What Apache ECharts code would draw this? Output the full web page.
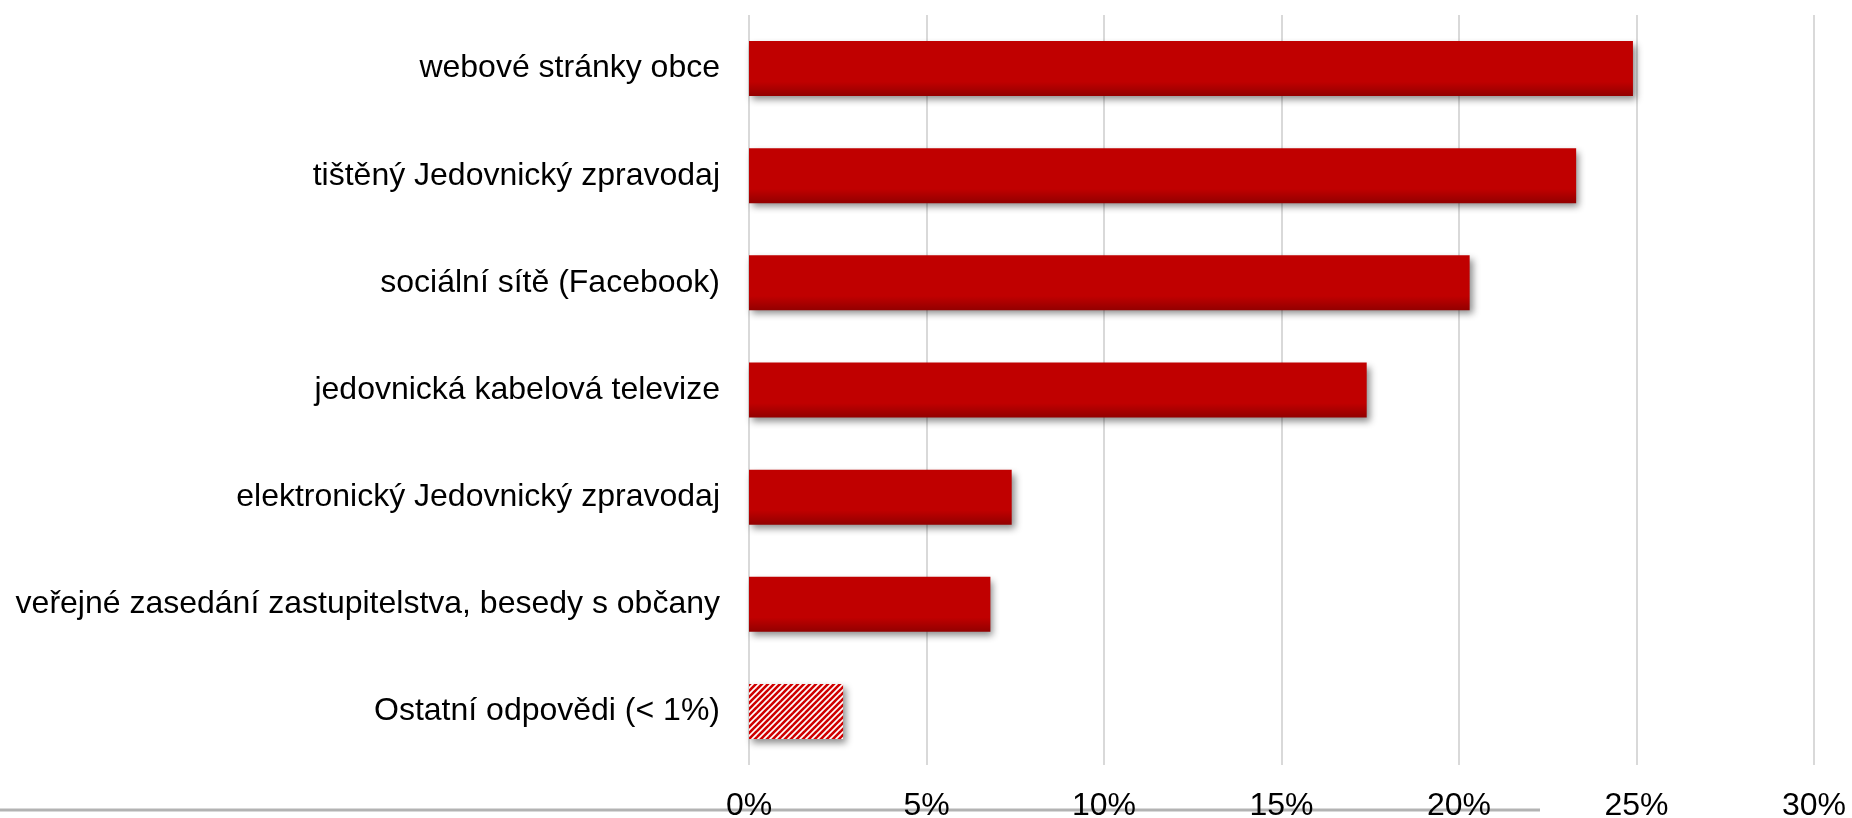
<!DOCTYPE html>
<html>
<head>
<meta charset="utf-8">
<script src="https://cdn.jsdelivr.net/npm/echarts@6/dist/echarts.min.js"></script>
<style>
html,body{margin:0;padding:0;background:#fff;}
#chart{width:1852px;height:818px;}
</style>
</head>
<body>
<div id="chart"></div>
<script>
const categories = [
  "webové stránky obce",
  "tištěný Jedovnický zpravodaj",
  "sociální sítě (Facebook)",
  "jedovnická kabelová televize",
  "elektronický Jedovnický zpravodaj",
  "veřejné zasedání zastupitelstva, besedy s občany",
  "Ostatní odpovědi (< 1%)"
];
const values = [24.9, 23.3, 20.3, 17.4, 7.4, 6.8, 2.65];
const hatchedIndex = 6;
const axisMin = 0, axisMax = 30, axisStep = 5;

// hatch pattern ("/" stripes)
const T = 12, P = 6;
const tile = document.createElement('canvas');
tile.width = T; tile.height = T;
const c = tile.getContext('2d');
c.fillStyle = '#ffffff';
c.fillRect(0, 0, T, T);
c.strokeStyle = '#d00000';
c.lineWidth = 2.6;
for (let k = -1; k <= 2 * T / P + 1; k++) {
  const s = k * P;
  c.beginPath();
  c.moveTo(s + 3, -3);
  c.lineTo(s - T - 3, T + 3);
  c.stroke();
}

const solidColor = {
  type: 'linear', x: 0, y: 0, x2: 0, y2: 1,
  colorStops: [
    {offset: 0, color: '#c00000'},
    {offset: 0.74, color: '#c00000'},
    {offset: 1, color: '#920000'}
  ]
};

const seriesData = values.map((v, i) => ({
  value: v,
  itemStyle: i === hatchedIndex
    ? {color: {image: tile, repeat: 'repeat'}}
    : {color: solidColor}
}));

const chart = echarts.init(document.getElementById('chart'), null, {renderer: 'canvas'});
chart.setOption({
  animation: false,
  backgroundColor: '#ffffff',
  textStyle: {fontFamily: '"Liberation Sans", Arial, sans-serif'},
  grid: {left: 749, right: 38, top: 15, bottom: 53, containLabel: false, outerBoundsMode: 'none'},
  xAxis: {
    type: 'value',
    min: axisMin, max: axisMax, interval: axisStep,
    axisLine: {show: false},
    axisTick: {show: false},
    splitLine: {show: true, lineStyle: {color: '#d9d9d9', width: 2}},
    axisLabel: {
      formatter: v => v + '%',
      color: '#000', fontSize: 32, margin: 25,
      fontFamily: '"Liberation Sans", Arial, sans-serif'
    }
  },
  yAxis: {
    type: 'category',
    data: categories,
    inverse: true,
    axisLine: {show: false},
    axisTick: {show: false},
    splitLine: {show: false},
    axisLabel: {
      color: '#000', fontSize: 32, margin: 29,
      fontFamily: '"Liberation Sans", Arial, sans-serif'
    }
  },
  graphic: [{
    type: 'line',
    z: -1,
    shape: {x1: 0, y1: 810, x2: 1540, y2: 810},
    style: {stroke: '#b3b3b3', lineWidth: 3}
  }],
  series: [{
    type: 'bar',
    data: seriesData,
    barWidth: 55,
    itemStyle: {
      shadowColor: 'rgba(0,0,0,0.45)',
      shadowBlur: 7,
      shadowOffsetX: 3,
      shadowOffsetY: 4
    }
  }]
});
</script>
</body>
</html>
